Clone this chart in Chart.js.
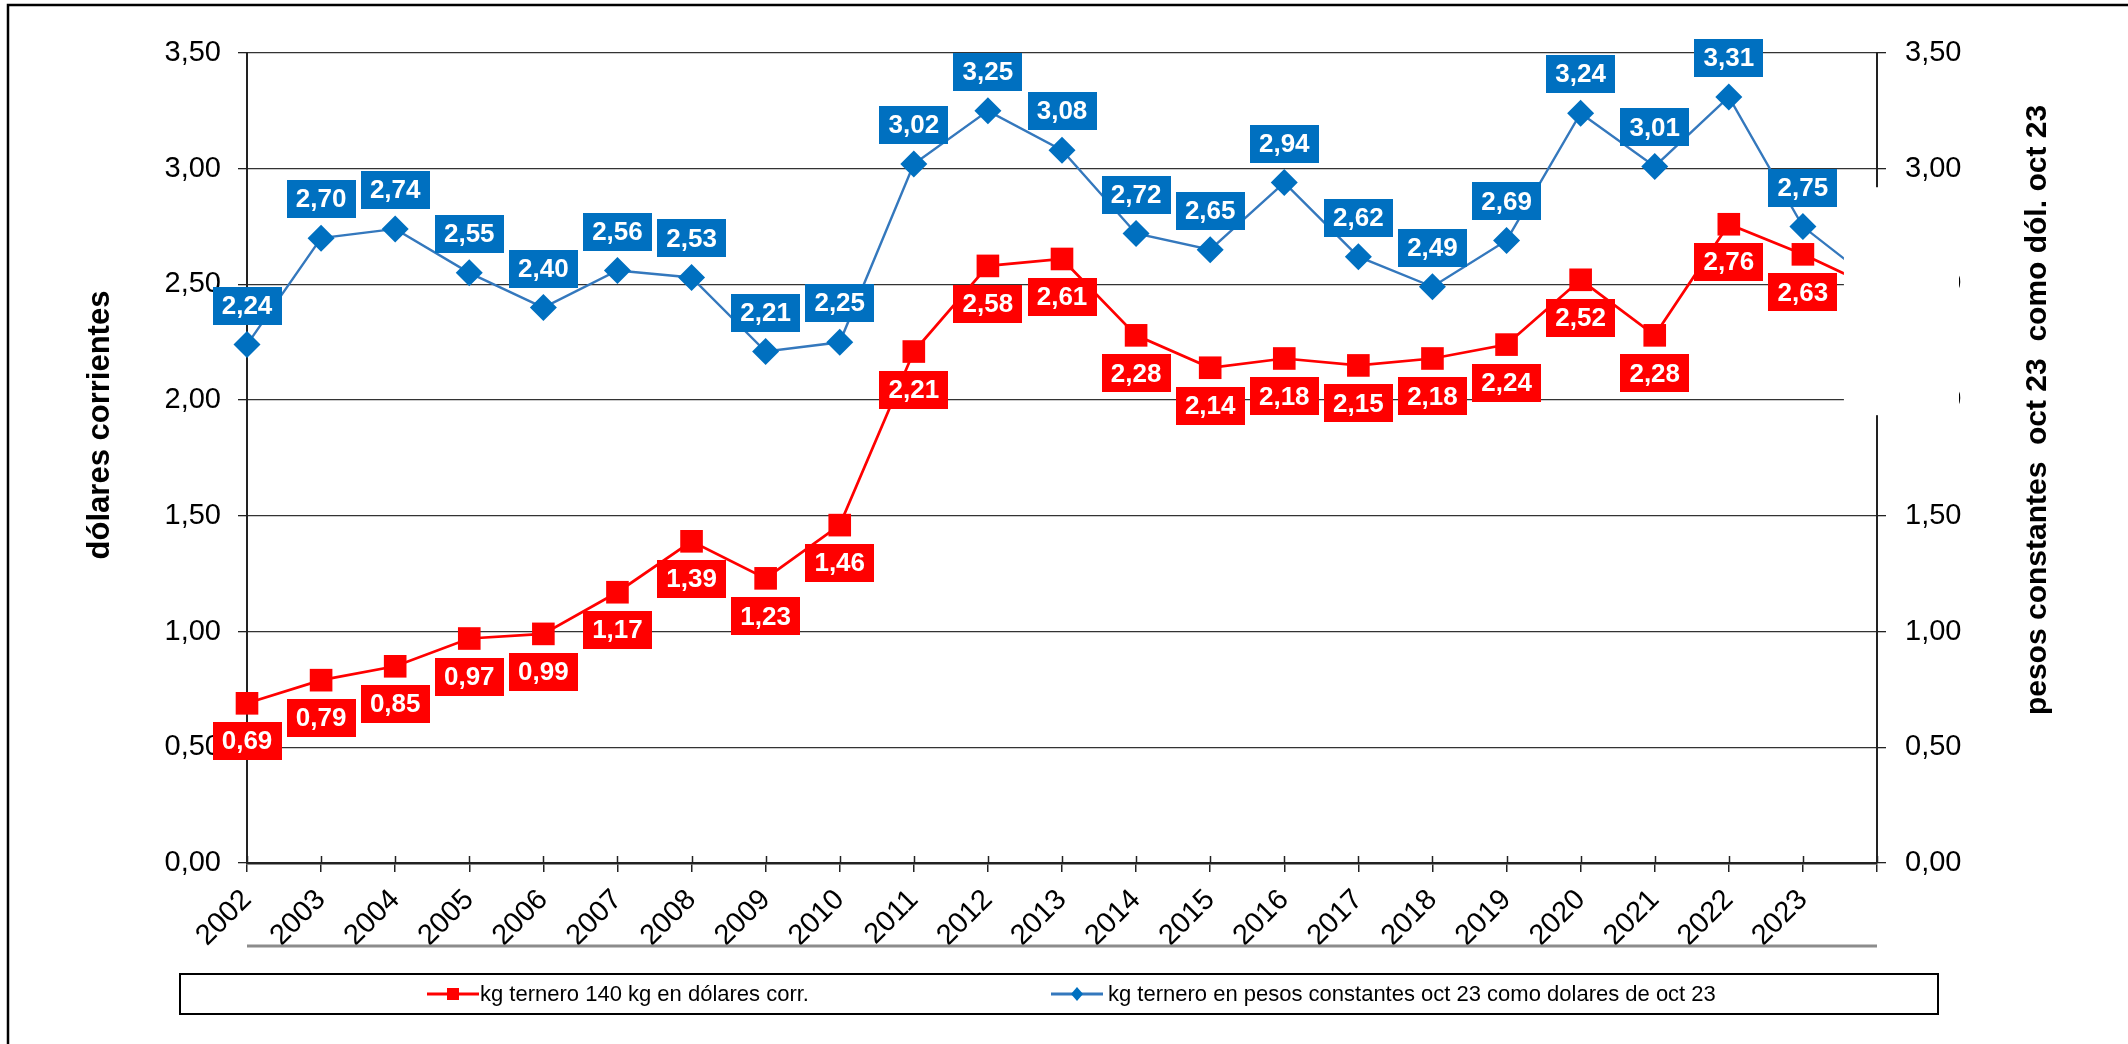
<!DOCTYPE html>
<html>
<head>
<meta charset="utf-8">
<script src="https://cdn.jsdelivr.net/npm/chart.js@4.4.0/dist/chart.umd.min.js"></script>
<style>
html, body { margin: 0; padding: 0; background: #fff; }
#wrap { width: 2128px; height: 1044px; position: relative; }
</style>
</head>
<body>
<div id="wrap"><canvas id="chart" width="2128" height="1044"></canvas></div>
<script>
// años (el último punto queda tapado en el original, sin etiqueta)
var years = ['2002', '2003', '2004', '2005', '2006', '2007', '2008', '2009', '2010', '2011', '2012',
             '2013', '2014', '2015', '2016', '2017', '2018', '2019', '2020', '2021', '2022', '2023', ''];

// kg ternero 140 kg en dólares corrientes
var dolaresCorr = [0.69, 0.79, 0.85, 0.97, 0.99, 1.17, 1.39, 1.23, 1.46, 2.21, 2.58,
                   2.61, 2.28, 2.14, 2.18, 2.15, 2.18, 2.24, 2.52, 2.28, 2.76, 2.63, 2.48];

// kg ternero en pesos constantes oct 23 como dólares de oct 23
var pesosConst = [2.24, 2.70, 2.74, 2.55, 2.40, 2.56, 2.53, 2.21, 2.25, 3.02, 3.25,
                  3.08, 2.72, 2.65, 2.94, 2.62, 2.49, 2.69, 3.24, 3.01, 3.31, 2.75, 2.50];

var seriesNames = ['kg ternero 140 kg en dólares corr.', 'kg ternero en pesos constantes oct 23 como dolares de oct 23'];
var leftTitle = 'dólares corrientes';
var rightTitle = 'pesos constantes  oct 23  como dól. oct 23';

var FONT = '"Liberation Sans", Arial, sans-serif';
var RED = '#ff0000';
var BLUE = '#0070c0';
var BLUE_LINE = '#3478bd';

function fmt(v) {
    return v.toFixed(2).replace('.', ',');
}

// cajas con el valor encima / debajo de cada punto
var valueLabels = {
    id: 'valueLabels',
    afterDatasetsDraw: function(chart) {
        var ctx = chart.ctx;
        ctx.save();
        ctx.font = 'bold 26px ' + FONT;
        ctx.textAlign = 'center';
        ctx.textBaseline = 'middle';
        chart.data.datasets.forEach(function(ds, i) {
            var meta = chart.getDatasetMeta(i);
            meta.data.forEach(function(pt, j) {
                if (!chart.data.labels[j]) return;
                var txt = fmt(ds.data[j]);
                var w = Math.round(ctx.measureText(txt).width + 18);
                var h = 38;
                var top = ds.labelBelow ? pt.y + 19 : pt.y - 20 - h;
                ctx.fillStyle = ds.labelBg;
                ctx.fillRect(Math.round(pt.x - w / 2), Math.round(top), w, h);
                ctx.fillStyle = '#fff';
                ctx.fillText(txt, pt.x, top + h / 2 + 1);
            });
        });
        ctx.restore();
    }
};

// marco, títulos de ejes, línea gris, leyenda y el recuadro blanco del original
var decorations = {
    id: 'decorations',
    afterDraw: function(chart) {
        var ctx = chart.ctx;
        var area = chart.chartArea;
        var x = chart.scales.x;
        var y = chart.scales.y;
        ctx.save();

        // ticks del eje x hacia arriba
        ctx.strokeStyle = '#222';
        ctx.lineWidth = 1.5;
        x.ticks.forEach(function(t, i) {
            var px = Math.round(x.getPixelForTick(i)) + 0.5;
            ctx.beginPath();
            ctx.moveTo(px, area.bottom - 7);
            ctx.lineTo(px, area.bottom);
            ctx.stroke();
        });

        // línea gris bajo los años
        ctx.strokeStyle = '#8c8c8c';
        ctx.lineWidth = 3;
        ctx.beginPath();
        ctx.moveTo(area.left, area.bottom + 83);
        ctx.lineTo(area.right, area.bottom + 83);
        ctx.stroke();

        // recuadro blanco que tapa el final de las series
        var coverLeft = x.getPixelForValue(21) + 41;
        var coverTop = y.getPixelForValue(2.92);
        var coverBottom = y.getPixelForValue(1.935);
        ctx.fillStyle = '#fff';
        ctx.fillRect(coverLeft, coverTop, area.right + 82 - coverLeft, coverBottom - coverTop);

        // títulos de ejes
        ctx.fillStyle = '#000';
        ctx.font = 'bold 31px ' + FONT;
        ctx.textAlign = 'center';
        ctx.textBaseline = 'middle';
        ctx.save();
        ctx.translate(100, 425);
        ctx.rotate(-Math.PI / 2);
        ctx.fillText(leftTitle, 0, 0);
        ctx.restore();
        ctx.font = 'bold 30px ' + FONT;
        ctx.save();
        ctx.translate(2038, 410);
        ctx.rotate(-Math.PI / 2);
        ctx.fillText(rightTitle, 0, 0);
        ctx.restore();

        // leyenda
        ctx.strokeStyle = '#000';
        ctx.lineWidth = 2;
        ctx.strokeRect(180, 974, 1758, 40);
        var items = [
            { x: 427, textX: 480, ds: chart.data.datasets[0], shape: 'rect' },
            { x: 1051, textX: 1108, ds: chart.data.datasets[1], shape: 'diamond' }
        ];
        var ly = 994;
        ctx.font = '22px ' + FONT;
        ctx.textAlign = 'left';
        items.forEach(function(it) {
            ctx.strokeStyle = it.ds.borderColor;
            ctx.lineWidth = 3;
            ctx.beginPath();
            ctx.moveTo(it.x, ly);
            ctx.lineTo(it.x + 52, ly);
            ctx.stroke();
            ctx.fillStyle = it.ds.pointBackgroundColor;
            var cx = it.x + 26;
            if (it.shape === 'rect') {
                ctx.fillRect(cx - 6, ly - 6, 12, 12);
            } else {
                ctx.beginPath();
                ctx.moveTo(cx, ly - 7);
                ctx.lineTo(cx + 6, ly);
                ctx.lineTo(cx, ly + 7);
                ctx.lineTo(cx - 6, ly);
                ctx.closePath();
                ctx.fill();
            }
            ctx.fillStyle = '#000';
            ctx.fillText(it.ds.label, it.textX, ly + 1);
        });

        // marco exterior
        ctx.strokeStyle = '#000';
        ctx.lineWidth = 2.5;
        ctx.beginPath();
        ctx.moveTo(8, chart.height);
        ctx.lineTo(8, 5);
        ctx.lineTo(chart.width, 5);
        ctx.stroke();

        ctx.restore();
    }
};

var ctx = document.getElementById('chart').getContext('2d');
new Chart(ctx, {
    type: 'line',
    data: {
        labels: years,
        datasets: [
            {
                label: seriesNames[0],
                data: dolaresCorr,
                yAxisID: 'y',
                borderColor: RED,
                backgroundColor: RED,
                pointBackgroundColor: RED,
                pointStyle: 'rect',
                pointRadius: 16,
                pointBorderWidth: 0,
                borderWidth: 2.7,
                tension: 0,
                clip: false,
                labelBg: RED,
                labelBelow: true
            },
            {
                label: seriesNames[1],
                data: pesosConst,
                yAxisID: 'y1',
                borderColor: BLUE_LINE,
                backgroundColor: BLUE,
                pointBackgroundColor: BLUE,
                pointStyle: 'rectRot',
                pointRadius: 13.5,
                pointBorderWidth: 0,
                borderWidth: 2.4,
                tension: 0,
                clip: false,
                labelBg: BLUE,
                labelBelow: false
            }
        ]
    },
    options: {
        responsive: false,
        devicePixelRatio: 1,
        animation: false,
        events: [],
        layout: { padding: { top: 53, left: 0, right: 0, bottom: 0 } },
        plugins: {
            legend: { display: false },
            tooltip: { enabled: false }
        },
        scales: {
            x: {
                type: 'category',
                offset: false,
                afterFit: function(s) { s.height = 181; },
                grid: { drawOnChartArea: false, drawTicks: true, tickLength: 9, color: '#222', lineWidth: 1.5 },
                border: { color: '#222', width: 2.5 },
                ticks: {
                    autoSkip: false,
                    maxRotation: 45,
                    minRotation: 45,
                    padding: 11,
                    color: '#000',
                    font: { family: FONT, size: 29 }
                }
            },
            y: {
                position: 'left',
                min: 0,
                max: 3.5,
                afterFit: function(s) { s.width = 247; },
                grid: { color: '#333', lineWidth: 1.3, tickLength: 9, tickColor: '#222' },
                border: { color: '#222', width: 2 },
                ticks: {
                    stepSize: 0.5,
                    padding: 17,
                    color: '#000',
                    font: { family: FONT, size: 29 },
                    callback: function(v) { return fmt(v); }
                }
            },
            y1: {
                position: 'right',
                min: 0,
                max: 3.5,
                afterFit: function(s) { s.width = 251; },
                grid: { drawOnChartArea: false, tickLength: 9, color: '#222', lineWidth: 1.3 },
                border: { color: '#222', width: 2 },
                ticks: {
                    stepSize: 0.5,
                    padding: 19,
                    color: '#000',
                    font: { family: FONT, size: 29 },
                    callback: function(v) { return fmt(v); }
                }
            }
        }
    },
    plugins: [valueLabels, decorations]
});
</script>
</body>
</html>
